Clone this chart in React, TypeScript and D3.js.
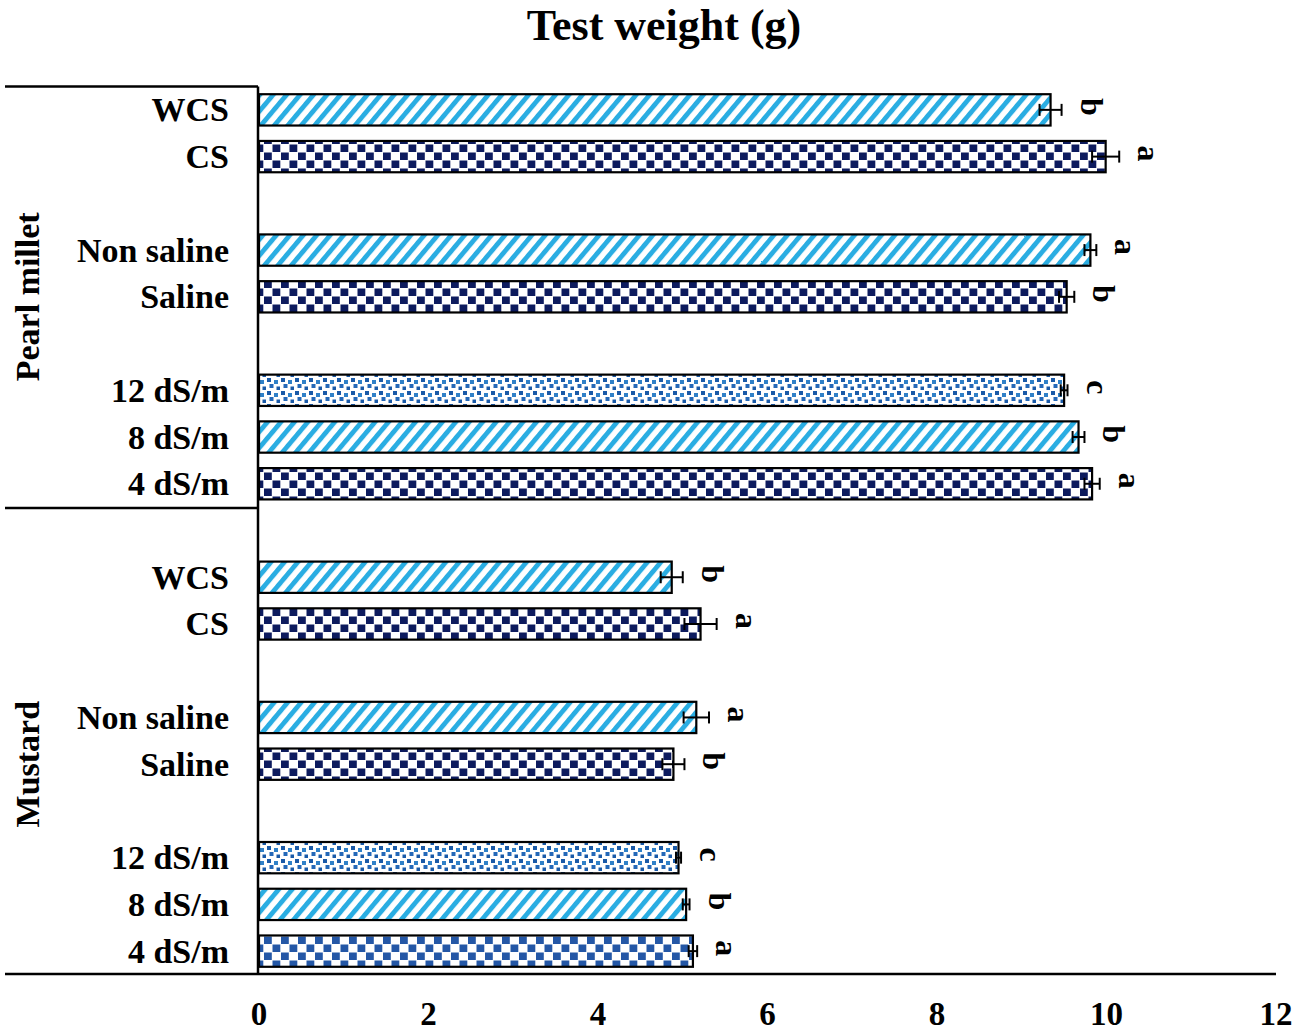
import React from "react";
import * as d3 from "d3";

const title = "Test weight (g)";
const crops = ["Pearl millet", "Mustard"];
const treatments = ["WCS", "CS", "Non saline", "Saline", "12 dS/m", "8 dS/m", "4 dS/m"];
// layout slots within a crop block (gaps between treatment groups)
const slotOrder = ["WCS", "CS", "_g1", "Non saline", "Saline", "_g2", "12 dS/m", "8 dS/m", "4 dS/m"];

const pearlMeans = [9.34, 9.99, 9.81, 9.53, 9.5, 9.67, 9.83];
const pearlSE = [0.13, 0.16, 0.07, 0.09, 0.04, 0.07, 0.09];
const pearlLetters = ["b", "a", "a", "b", "c", "b", "a"];

const mustardMeans = [4.87, 5.21, 5.16, 4.89, 4.95, 5.04, 5.12];
const mustardSE = [0.13, 0.19, 0.15, 0.13, 0.03, 0.04, 0.05];
const mustardLetters = ["b", "a", "a", "b", "c", "b", "a"];

const patternOf = ["stripe", "checkNavy", "stripe", "checkNavy", "dots", "stripe", "checkNavy"];
const mustardLastPattern = "checkBlue";

const xTicks = [0, 2, 4, 6, 8, 10, 12];

const W = 1299;
const H = 1036;
const FONT = "'Liberation Serif', 'Times New Roman', serif";

export default function App() {
  const slots: string[] = [];
  crops.forEach((c, ci) => {
    slotOrder.forEach((s) => slots.push(`${c}|${s}`));
    if (ci < crops.length - 1) slots.push(`gap|${ci}`);
  });

  const x = d3.scaleLinear().domain([0, 12]).range([259, 1276]);
  const y = d3
    .scaleBand<string>()
    .domain(slots)
    .range([86.5, 974.5])
    .paddingInner(0.33)
    .paddingOuter(0.165);

  const rows: {
    key: string;
    crop: string;
    label: string;
    mean: number;
    se: number;
    letter: string;
    pattern: string;
  }[] = [];
  crops.forEach((c, ci) => {
    const means = ci === 0 ? pearlMeans : mustardMeans;
    const ses = ci === 0 ? pearlSE : mustardSE;
    const letters = ci === 0 ? pearlLetters : mustardLetters;
    treatments.forEach((t, ti) => {
      let pat = patternOf[ti];
      if (ci === 1 && ti === treatments.length - 1) pat = mustardLastPattern;
      rows.push({
        key: `${c}|${t}`,
        crop: c,
        label: t,
        mean: means[ti],
        se: ses[ti],
        letter: letters[ti],
        pattern: pat,
      });
    });
  });

  const bh = y.bandwidth();
  const axisY = 974;
  const axisX = x(0) - 1;
  const blockTop = (c: string) => (y(`${c}|WCS`) as number) - (y.step() - bh) / 2;
  const blockBottom = (c: string) => (y(`${c}|4 dS/m`) as number) + bh + (y.step() - bh) / 2;

  return (
    <div style={{ position: "absolute", left: 0, top: 0 }}>
      <svg width={W} height={H} style={{ display: "block", background: "#fff" }} fontFamily={FONT}>
        <defs>
          <pattern id="stripe" patternUnits="userSpaceOnUse" width={10.3} height={10} patternTransform="rotate(40)">
            <rect width={10.3} height={10} fill="#fff" />
            <rect x={0} width={4.8} height={10} fill="#2aade2" />
          </pattern>
          <pattern id="checkNavy" patternUnits="userSpaceOnUse" width={17} height={16}>
            <rect width={17} height={16} fill="#fff" />
            <rect x={0.5} y={0.5} width={7.8} height={7.5} fill="#0d1b5e" />
            <rect x={9} y={8.5} width={7.8} height={7.5} fill="#0d1b5e" />
          </pattern>
          <pattern id="checkBlue" patternUnits="userSpaceOnUse" width={17} height={16}>
            <rect width={17} height={16} fill="#fff" />
            <rect x={0.5} y={0.5} width={7.8} height={7.5} fill="#2457a6" />
            <rect x={9} y={8.5} width={7.8} height={7.5} fill="#2457a6" />
          </pattern>
          <pattern id="dots" patternUnits="userSpaceOnUse" width={14} height={13}>
            <rect width={14} height={13} fill="#fff" />
            <rect x={1} y={1} width={4} height={4} fill="#1a5aa8" />
            <rect x={8} y={3} width={4} height={4} fill="#2f80c8" />
            <rect x={3.5} y={7} width={4} height={4} fill="#2468b8" />
            <rect x={10.5} y={9.5} width={3.5} height={3.5} fill="#1a5aa8" />
          </pattern>
        </defs>

        {/* Title */}
        <text x={664} y={40} textAnchor="middle" fontSize={44} fontWeight="bold" fill="#000">
          {title}
        </text>

        {/* Bars */}
        {rows.map((r) => {
          const yy = y(r.key) as number;
          return (
            <rect
              key={r.key}
              x={x(0)}
              y={yy}
              width={x(r.mean) - x(0)}
              height={bh}
              fill={`url(#${r.pattern})`}
              stroke="#000"
              strokeWidth={2.2}
            />
          );
        })}

        {/* Error bars */}
        {rows.map((r) => {
          const cy = (y(r.key) as number) + bh / 2;
          const x1 = x(r.mean - r.se);
          const x2 = x(r.mean + r.se);
          const cap = 6;
          return (
            <g key={`e-${r.key}`} stroke="#000" strokeWidth={2}>
              <line x1={x1} x2={x2} y1={cy} y2={cy} />
              <line x1={x1} x2={x1} y1={cy - cap} y2={cy + cap} />
              <line x1={x2} x2={x2} y1={cy - cap} y2={cy + cap} />
            </g>
          );
        })}

        {/* Significance letters */}
        {rows.map((r) => {
          const cy = (y(r.key) as number) + bh / 2 - 3;
          const lx = x(r.mean + r.se) + 30;
          return (
            <text
              key={`l-${r.key}`}
              transform={`translate(${lx},${cy}) rotate(90)`}
              textAnchor="middle"
              dominantBaseline="central"
              fontSize={32}
              fontWeight="bold"
              fill="#000"
            >
              {r.letter}
            </text>
          );
        })}

        {/* Category labels */}
        {rows.map((r) => {
          const cy = (y(r.key) as number) + bh / 2;
          return (
            <text
              key={`t-${r.key}`}
              x={229}
              y={cy}
              textAnchor="end"
              dominantBaseline="central"
              fontSize={34}
              fontWeight="bold"
              fill="#000"
            >
              {r.label}
            </text>
          );
        })}

        {/* Crop labels */}
        {crops.map((c) => {
          const cy = (blockTop(c) + blockBottom(c)) / 2;
          return (
            <text
              key={`c-${c}`}
              transform={`translate(27,${cy}) rotate(-90)`}
              textAnchor="middle"
              dominantBaseline="central"
              fontSize={34}
              fontWeight="bold"
              fill="#000"
            >
              {c}
            </text>
          );
        })}

        {/* Frame lines */}
        <g stroke="#000" strokeWidth={2.5}>
          <line x1={axisX} x2={axisX} y1={blockTop(crops[0])} y2={axisY} />
          <line x1={5} x2={axisX} y1={blockTop(crops[0])} y2={blockTop(crops[0])} />
          <line x1={5} x2={axisX} y1={508} y2={508} />
          <line x1={5} x2={x(12)} y1={axisY} y2={axisY} />
        </g>

        {/* X tick labels */}
        {xTicks.map((t) => (
          <text
            key={`x-${t}`}
            x={x(t)}
            y={1025}
            textAnchor="middle"
            fontSize={33}
            fontWeight="bold"
            fill="#000"
          >
            {t}
          </text>
        ))}
      </svg>
    </div>
  );
}
